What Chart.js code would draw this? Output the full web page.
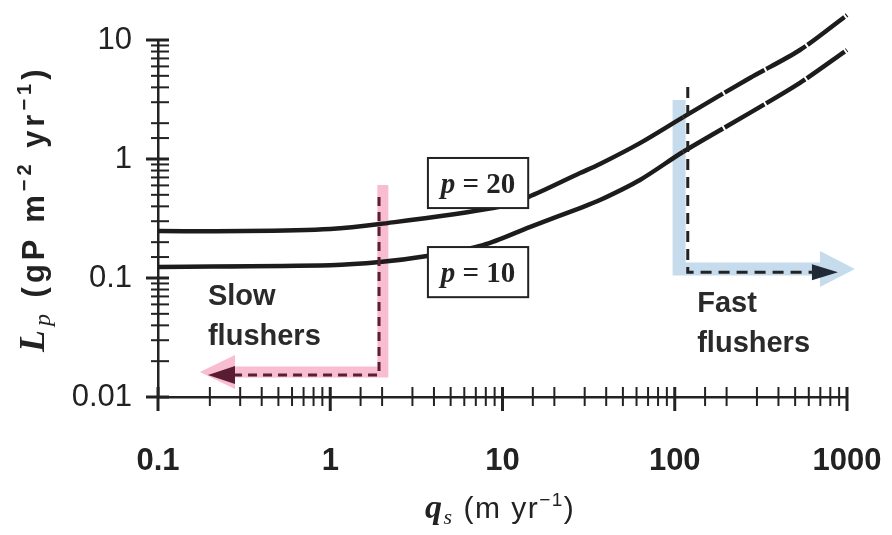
<!DOCTYPE html>
<html>
<head>
<meta charset="utf-8">
<script src="https://cdn.jsdelivr.net/npm/chart.js@4.4.0/dist/chart.umd.min.js"></script>
<style>
  html, body { margin: 0; padding: 0; background: #fff; }
  #wrap { width: 892px; height: 535px; }
</style>
</head>
<body>
<div id="wrap"><canvas id="chart" width="892" height="535"></canvas></div>
<script>
// values (log-log)
const qsP20 = [0.1, 0.32, 1, 1.94, 8.8, 14.1, 28.2, 36.8, 62.8, 112, 273, 533, 1000];
const lpP20 = [0.248, 0.248, 0.258, 0.284, 0.387, 0.479, 0.762, 0.908, 1.36, 2.25, 4.8, 8.24, 16.2];
const qsP10 = [0.1, 1, 1.94, 3.65, 7.7, 14.5, 28.2, 36.8, 62.8, 112, 273, 533, 1000];
const lpP10 = [0.124, 0.128, 0.136, 0.153, 0.189, 0.269, 0.387, 0.452, 0.667, 1.15, 2.44, 4.36, 8.24];
const seriesLabels = ["20", "10"];
const xTickValues = [0.1, 1, 10, 100, 1000];
const xTickLabels = ["0.1", "1", "10", "100", "1000"];
const yTickValues = [0.01, 0.1, 1, 10];
const yTickLabels = ["0.01", "0.1", "1", "10"];

const INK = "#222";

function findTick(values, v) {
  return values.findIndex(t => Math.abs(t - v) < t * 1e-6);
}

function toPoints(xs, ys) {
  return xs.map((x, i) => ({ x: x, y: ys[i] }));
}

function drawRuns(ctx, runs, x, y) {
  let cx = x;
  runs.forEach(r => {
    ctx.font = r.font;
    ctx.fillText(r.text, cx, y + (r.dy || 0));
    cx += ctx.measureText(r.text).width;
  });
  return cx - x;
}

function runsWidth(ctx, runs) {
  let w = 0;
  runs.forEach(r => { ctx.font = r.font; w += ctx.measureText(r.text).width; });
  return w;
}

function polyline(ctx, pts) {
  ctx.beginPath();
  pts.forEach((p, i) => (i ? ctx.lineTo(p[0], p[1]) : ctx.moveTo(p[0], p[1])));
  ctx.stroke();
}

function arrowHead(ctx, tipX, tipY, baseX, half, color) {
  ctx.fillStyle = color;
  ctx.beginPath();
  ctx.moveTo(tipX, tipY);
  ctx.lineTo(baseX, tipY - half);
  ctx.lineTo(baseX, tipY + half);
  ctx.closePath();
  ctx.fill();
}

const decorations = {
  id: "decorations",
  beforeDatasetsDraw(chart) {
    const ctx = chart.ctx;
    const X = v => chart.scales.x.getPixelForValue(v);
    const Y = v => chart.scales.y.getPixelForValue(v);
    ctx.save();
    ctx.lineJoin = "miter";
    // pink band (slow flushers)
    ctx.strokeStyle = "#f8bdd1";
    ctx.lineWidth = 11;
    polyline(ctx, [[X(0.28), Y(0.0162)], [X(2.02), Y(0.0162)], [X(2.02), Y(0.605)]]);
    arrowHead(ctx, X(0.175), Y(0.0162), X(0.28), 17, "#f8bdd1");
    // blue band (fast flushers)
    ctx.strokeStyle = "#c6dcec";
    ctx.lineWidth = 13;
    polyline(ctx, [[X(106), Y(3.13)], [X(106), Y(0.119)], [X(697), Y(0.119)]]);
    arrowHead(ctx, X(1112), Y(0.119), X(697), 18, "#c6dcec");
    ctx.restore();
  },
  afterDatasetsDraw(chart) {
    const ctx = chart.ctx;
    const X = v => chart.scales.x.getPixelForValue(v);
    const Y = v => chart.scales.y.getPixelForValue(v);
    ctx.save();
    // dashed guides
    ctx.lineWidth = 3;
    ctx.strokeStyle = "#5a1f34";
    ctx.setLineDash([9, 6]);
    polyline(ctx, [[X(1.92), Y(0.479)], [X(1.92), Y(0.0153)], [X(0.28), Y(0.0153)]]);
    ctx.strokeStyle = INK;
    ctx.setLineDash([11, 7]);
    polyline(ctx, [[X(119), Y(4.03)], [X(119), Y(0.112)], [X(626), Y(0.112)]]);
    ctx.setLineDash([]);
    arrowHead(ctx, X(0.195), Y(0.0153), X(0.28), 9, "#5a1c33");
    arrowHead(ctx, X(887), Y(0.112), X(626), 8, "#1f2a36");

    // curve label boxes
    const boxes = [
      { label: seriesLabels[0], x0: 3.69, x1: 14.1, y0: 1.02, y1: 0.387 },
      { label: seriesLabels[1], x0: 3.69, x1: 14.1, y0: 0.182, y1: 0.069 }
    ];
    boxes.forEach(b => {
      const l = X(b.x0), r = X(b.x1), t = Y(b.y0), bt = Y(b.y1);
      ctx.fillStyle = "#fff";
      ctx.fillRect(l, t, r - l, bt - t);
      ctx.strokeStyle = INK;
      ctx.lineWidth = 2;
      ctx.strokeRect(l, t, r - l, bt - t);
      const runs = [
        { text: "p", font: "italic bold 29px 'Liberation Serif'" },
        { text: " = " + b.label, font: "bold 29px 'Liberation Serif'" }
      ];
      ctx.fillStyle = INK;
      ctx.textBaseline = "alphabetic";
      ctx.textAlign = "left";
      const w = runsWidth(ctx, runs);
      drawRuns(ctx, runs, (l + r) / 2 - w / 2, (t + bt) / 2 + 10);
    });

    // region labels
    ctx.fillStyle = "#2a2a2a";
    ctx.font = "bold 29px 'Liberation Sans'";
    ctx.textAlign = "left";
    ctx.fillText("Slow", X(0.195), Y(0.0593));
    ctx.fillText("flushers", X(0.195), Y(0.0273));
    ctx.fillText("Fast", X(135), Y(0.0518));
    ctx.fillText("flushers", X(135), Y(0.0239));
    ctx.restore();
  },
  afterDraw(chart) {
    const ctx = chart.ctx;
    const xs = chart.scales.x, ys = chart.scales.y;
    const area = chart.chartArea;
    ctx.save();
    ctx.strokeStyle = INK;
    // ticks crossing the axes
    xs.ticks.forEach(t => {
      const px = xs.getPixelForValue(t.value);
      const major = findTick(xTickValues, t.value) >= 0;
      ctx.lineWidth = major ? 3 : 2;
      ctx.beginPath();
      ctx.moveTo(px, area.bottom - 10);
      ctx.lineTo(px, area.bottom + (major ? 14 : 9));
      ctx.stroke();
    });
    ys.ticks.forEach(t => {
      const py = ys.getPixelForValue(t.value);
      const major = findTick(yTickValues, t.value) >= 0;
      ctx.lineWidth = major ? 3 : 2;
      ctx.beginPath();
      ctx.moveTo(area.left - (major ? 12 : 7), py);
      ctx.lineTo(area.left + 11, py);
      ctx.stroke();
    });

    // axis titles
    ctx.fillStyle = INK;
    ctx.textAlign = "left";
    ctx.textBaseline = "alphabetic";
    ctx.letterSpacing = "1.5px";
    drawRuns(ctx, [
      { text: "q", font: "italic bold 34px 'Liberation Serif'" },
      { text: "s", font: "italic 22px 'Liberation Serif'", dy: 6 },
      { text: " (m yr", font: "30px 'Liberation Sans'" },
      { text: "\u22121", font: "19px 'Liberation Sans'", dy: -12 },
      { text: ")", font: "30px 'Liberation Sans'" }
    ], 425, 518);

    ctx.letterSpacing = "4px";
    ctx.translate(44, 352);
    ctx.rotate(-Math.PI / 2);
    drawRuns(ctx, [
      { text: "L", font: "italic bold 36px 'Liberation Serif'" },
      { text: "p", font: "italic 24px 'Liberation Serif'", dy: 6 },
      { text: " (gP m", font: "bold 31px 'Liberation Sans'" },
      { text: "\u22122", font: "bold 20px 'Liberation Sans'", dy: -13 },
      { text: " yr", font: "bold 31px 'Liberation Sans'" },
      { text: "\u22121", font: "bold 20px 'Liberation Sans'", dy: -13 },
      { text: ")", font: "bold 31px 'Liberation Sans'" }
    ], 0, 0);
    ctx.restore();
  }
};

const lineStyle = {
  borderColor: "#1e1b1b",
  borderWidth: 4.5,
  pointRadius: 0,
  fill: false,
  clip: false,
  tension: 0.3,
  segment: {
    borderDash: c => (c.p0.parsed.x >= 100 ? [46, 2] : undefined)
  }
};

new Chart(document.getElementById("chart"), {
  type: "line",
  data: {
    datasets: [
      Object.assign({ label: "p = " + seriesLabels[0], data: toPoints(qsP20, lpP20) }, lineStyle),
      Object.assign({ label: "p = " + seriesLabels[1], data: toPoints(qsP10, lpP10) }, lineStyle)
    ]
  },
  options: {
    responsive: false,
    animation: false,
    devicePixelRatio: 1,
    layout: { padding: { top: 40, right: 45, left: 0, bottom: 0 } },
    plugins: { legend: { display: false }, tooltip: { enabled: false } },
    scales: {
      x: {
        type: "logarithmic",
        min: 0.1,
        max: 1000,
        afterFit: s => { s.height = 138; s.paddingLeft = 0; s.paddingRight = 0; },
        grid: { drawOnChartArea: false, drawTicks: false },
        border: { display: true, color: INK, width: 2.5 },
        ticks: {
          autoSkip: false,
          maxRotation: 0,
          padding: 46,
          color: INK,
          font: { family: "'Liberation Sans'", size: 31, weight: "bold" },
          callback: v => { const i = findTick(xTickValues, v); return i >= 0 ? xTickLabels[i] : ""; }
        }
      },
      y: {
        type: "logarithmic",
        min: 0.01,
        max: 10,
        afterFit: s => { s.width = 158; s.paddingTop = 0; s.paddingBottom = 0; },
        grid: { drawOnChartArea: false, drawTicks: false },
        border: { display: true, color: INK, width: 2.5 },
        ticks: {
          autoSkip: false,
          padding: 26,
          color: INK,
          font: { family: "'Liberation Sans'", size: 31 },
          callback: v => { const i = findTick(yTickValues, v); return i >= 0 ? yTickLabels[i] : ""; }
        }
      }
    }
  },
  plugins: [decorations]
});
</script>
</body>
</html>
